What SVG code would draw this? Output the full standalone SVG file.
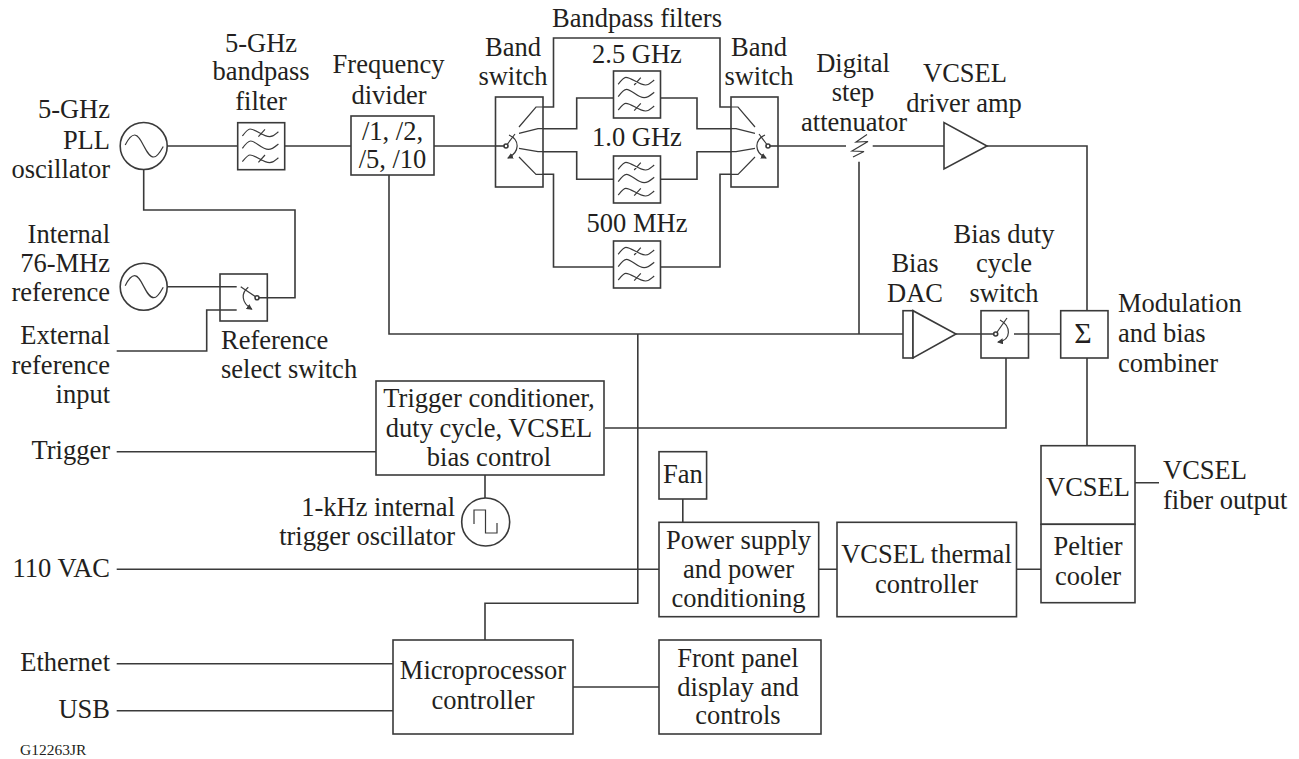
<svg xmlns="http://www.w3.org/2000/svg" width="1299" height="759" viewBox="0 0 1299 759">
<style>
text{font-family:"Liberation Serif","Times New Roman",serif;font-size:26.5px;fill:#231f20;text-anchor:middle}
.l{fill:none;stroke:#3a3a3a;stroke-width:1.6}
.t{fill:none;stroke:#3a3a3a;stroke-width:1.2}
.b{fill:#fff;stroke:#3a3a3a;stroke-width:1.6}
.e{text-anchor:end}.s{text-anchor:start}
</style>
<defs>
<marker id="arrow" markerUnits="userSpaceOnUse" markerWidth="7" markerHeight="6" refX="5" refY="3" orient="auto"><path d="M0 0L6 3L0 6Z" fill="#3a3a3a"/></marker>
<g id="filter"><rect class="b" width="47" height="47"/>
<path class="t" d="M4.700 13.300C8 9 10 6.300 12.300 6.300C18 6.300 25 14 32 14C36 14 38 11 40.700 9M4.700 25.700C8 21 10 18.300 13 18.300C18 18.300 24 26.700 30.700 26.700C35 26.700 38 23.500 40.700 21.300M4.700 39C8 35 10 32.300 12.300 32.300C18 32.300 25 40 32 40C36 40 38 37 40.700 35M20.700 14L27.300 6.700M20.700 39.700L27.300 32.300"/></g>
<g id="osc"><circle class="b" r="23.500"/><path class="t" d="M-18.500 -1C-15 -8 -12 -11 -9 -11C-2 -11 2 11 10 11C14 11 17 5 19.500 .5"/></g>
</defs>
<g id="connectors">
<path class="l" d="M167 146H237M285 146H351M434 146H495M143.700 170V210H295V297.700H267"/>
<path class="l" d="M167 286.700H220M116.700 351H206.700V310H220"/>
<path class="l" d="M543 107H553.500V38H720V107H731M543 128.700H576.700V98H613.500M660.500 98H697V128.700H731M543 151.700H576.700V179.300H613.500M660.500 179.300H697V151.700H731M543 174.300H553.500V267H613.500M660.500 267H720V174.300H731"/>
<path class="l" d="M778 146H846M872.700 146H944M987 146H1087V311M859 161.700V334M389 175V334H903M1087 358V446M1006 358V428H605M637.800 334V603.300H485V640M116.700 451.700H376M485 475V498"/>
<path class="l" d="M116.700 569.300H659M682.800 499V522M818.700 569.300H837M1016.500 569.300H1041M1135 482.700H1159M116.700 663.700H393M116.700 710.700H393M573 687H659"/>
</g>
<g id="pll"><use href="#osc" x="143.700" y="146"/><text class="e" x="110" y="118">5-GHz</text><text class="e" x="110" y="149">PLL</text><text class="e" x="110" y="177.700">oscillator</text></g>
<g id="bpf5"><use href="#filter" x="237.700" y="122.700"/><text x="261" y="51.700">5-GHz</text><text x="261" y="80">bandpass</text><text x="261" y="110">filter</text></g>
<g id="divider"><rect class="b" x="351" y="116" width="83" height="59"/><text x="392.500" y="140">/1, /2,</text><text x="392.500" y="167.700">/5, /10</text><text x="388.500" y="73">Frequency</text><text x="389" y="104">divider</text></g>
<g id="bandswitch1"><rect class="b" x="495.500" y="97" width="47.500" height="90"/><text x="513" y="55.700">Band</text><text x="513" y="85">switch</text>
<path class="l" d="M495.500 146H506"/><path class="t" d="M543 107H536L519 127M543 128.700H538L519 133.300M543 151.700H538L519 148.300M543 174.300H536L519 157M506 146L515 134"/><path class="t" marker-end="url(#arrow)" d="M509 135C520 140 520 152 508 158"/><circle class="b" cx="506" cy="146" r="2"/></g>
<g id="bandswitch2"><rect class="b" x="731" y="97" width="47" height="90"/><text x="759" y="55.700">Band</text><text x="759" y="85">switch</text>
<path class="l" d="M768 146H778"/><path class="t" d="M731 107H738L755 127M731 128.700H736L755 133.300M731 151.700H736L755 148.300M731 174.300H738L755 157M768 146L759 134"/><path class="t" marker-end="url(#arrow)" d="M765 135C754 140 754 152 766 158"/><circle class="b" cx="768" cy="146" r="2"/></g>
<g id="filter25"><use href="#filter" x="613.500" y="71"/><text x="637" y="62.700">2.5 GHz</text></g>
<g id="filter10"><use href="#filter" x="613.500" y="156"/><text x="637" y="146">1.0 GHz</text></g>
<g id="filter500"><use href="#filter" x="613.500" y="241"/><text x="637" y="231.700">500 MHz</text></g>
<text x="637" y="26.700">Bandpass filters</text>
<g id="attenuator"><path class="t" d="M867 134.500L856 142L868 141.500L852 151L864 151.500L853 157"/><text x="853" y="71.700">Digital</text><text x="853" y="101">step</text><text x="854" y="130.700">attenuator</text></g>
<g id="driver"><path class="b" d="M944 122.500V169L987 146Z"/><text x="965" y="82.300">VCSEL</text><text x="964" y="111.700">driver amp</text></g>
<g id="osc76"><use href="#osc" x="143.700" y="286.700"/><text class="e" x="110" y="242.700">Internal</text><text class="e" x="110" y="271.700">76-MHz</text><text class="e" x="110" y="300.700">reference</text></g>
<g id="external"><text class="e" x="110" y="344">External</text><text class="e" x="110" y="374">reference</text><text class="e" x="110" y="402.700">input</text></g>
<g id="refswitch"><rect class="b" x="220" y="274" width="47.300" height="47"/><path class="l" d="M220 286.700H236.700M220 310H236.700M257 297.700H267.300"/><path class="t" d="M257 297.700L240.700 286.700"/><path class="t" marker-end="url(#arrow)" d="M248.300 287.300C241 293 241 302 251.700 309.300"/><circle class="b" cx="257" cy="297.700" r="2"/><text class="s" x="221" y="349">Reference</text><text class="s" x="221" y="378">select switch</text></g>
<g id="biasdac"><rect class="b" x="903" y="310.700" width="10" height="47.300"/><path class="b" d="M913 310.700V358L956 334Z"/><text x="915" y="272">Bias</text><text x="915" y="301.700">DAC</text></g>
<g id="biasswitch"><rect class="b" x="981" y="310.700" width="47.500" height="47.300"/><path class="l" d="M956 334H995.700M1014 334H1061"/><path class="t" d="M995.700 334L1007 318"/><path class="t" marker-end="url(#arrow)" d="M1000 320C1011 326 1012 340 998 342"/><circle class="b" cx="995.700" cy="334" r="2"/><text x="1004" y="242.700">Bias duty</text><text x="1004" y="272">cycle</text><text x="1004" y="301.700">switch</text></g>
<g id="combiner"><rect class="b" x="1060.700" y="310.700" width="47.300" height="47.300"/><text x="1083" y="343" style="font-size:30px">Σ</text><text class="s" x="1118" y="312.300">Modulation</text><text class="s" x="1118" y="341.700">and bias</text><text class="s" x="1118" y="371.700">combiner</text></g>
<g id="trigger"><rect class="b" x="376" y="381" width="228" height="94"/><text x="489" y="406.700">Trigger conditioner,</text><text x="489" y="436.700">duty cycle, VCSEL</text><text x="489" y="466">bias control</text><text class="e" x="110" y="459">Trigger</text></g>
<g id="trigosc"><circle class="b" cx="485.700" cy="522" r="24"/><path class="t" d="M474 524V510H485.500V533H497V523"/><text class="e" x="455" y="516">1-kHz internal</text><text class="e" x="455" y="545">trigger oscillator</text></g>
<g id="vcsel"><rect class="b" x="1041" y="445.700" width="94" height="78.600"/><text x="1088" y="495.700">VCSEL</text><text class="s" x="1163" y="479">VCSEL</text><text class="s" x="1163" y="509">fiber output</text></g>
<g id="peltier"><rect class="b" x="1041" y="524.300" width="94" height="78.400"/><text x="1088" y="555">Peltier</text><text x="1088" y="585">cooler</text></g>
<g id="fan"><rect class="b" x="659" y="451.700" width="47.600" height="47.300"/><text x="682.800" y="483">Fan</text></g>
<g id="power"><rect class="b" x="659" y="522.300" width="159.700" height="94.400"/><text x="738.600" y="549">Power supply</text><text x="738.600" y="578">and power</text><text x="738.600" y="607">conditioning</text></g>
<g id="thermal"><rect class="b" x="837" y="522.300" width="179.500" height="94.400"/><text x="926.500" y="562.700">VCSEL thermal</text><text x="926.500" y="592.700">controller</text></g>
<text class="e" x="110" y="576.700">110 VAC</text>
<g id="micro"><rect class="b" x="393" y="640" width="180" height="94"/><text x="483" y="679">Microprocessor</text><text x="483" y="709">controller</text></g>
<g id="panel"><rect class="b" x="659" y="640" width="162" height="94"/><text x="738" y="666.700">Front panel</text><text x="738" y="695.700">display and</text><text x="738" y="724.300">controls</text></g>
<text class="e" x="110" y="671">Ethernet</text><text class="e" x="110" y="718">USB</text>
<text class="s" x="20" y="755" style="font-size:15.500px">G12263JR</text>
</svg>
